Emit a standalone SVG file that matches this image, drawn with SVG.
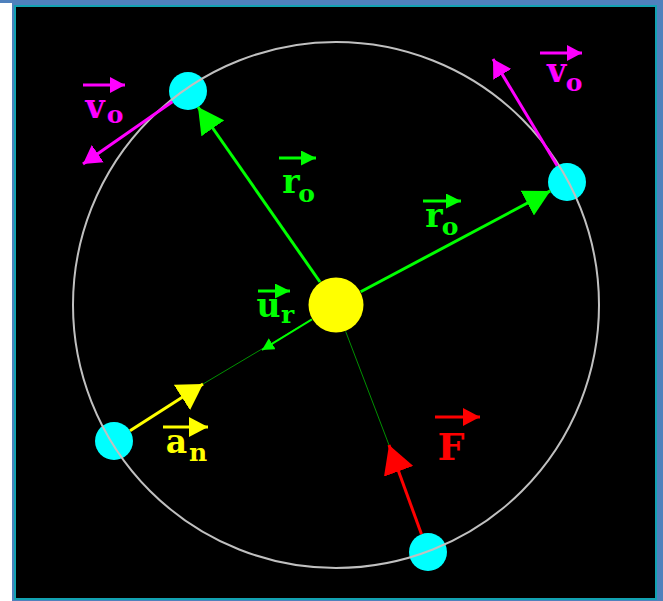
<svg xmlns="http://www.w3.org/2000/svg" width="663" height="601" viewBox="0 0 663 601">
<style>
.lbl{font-family:"DejaVu Serif","Liberation Serif",serif;font-weight:bold;text-anchor:middle}
.big{font-size:33px}
.sub{font-size:25px}
.planet{fill:#00ffff}
.orbit{fill:none;stroke:#c0c0c0;stroke-width:2}
.g{stroke:#00ff00;stroke-width:3;fill:none}
.thin{stroke:#009000;stroke-width:1;fill:none}
.y{stroke:#ffff00;stroke-width:3}
.r{stroke:#ff0000;stroke-width:3}
.m{stroke:#ff00ff;stroke-width:3}
</style>
<defs>
<marker id="hG" viewBox="0 0 26 28" refX="26" refY="14" markerWidth="26" markerHeight="28" markerUnits="userSpaceOnUse" orient="auto"><path d="M0,0L26,14L0,28z" fill="#00ff00"/></marker>
<marker id="hGs" viewBox="0 0 12 13" refX="12" refY="6.5" markerWidth="12" markerHeight="13" markerUnits="userSpaceOnUse" orient="auto"><path d="M0,0L12,6.5L0,13z" fill="#00ff00"/></marker>
<marker id="hY" viewBox="0 0 25 30" refX="25" refY="15" markerWidth="25" markerHeight="30" markerUnits="userSpaceOnUse" orient="auto"><path d="M0,0L25,15L0,30z" fill="#ffff00"/></marker>
<marker id="hR" viewBox="0 0 28 31" refX="28" refY="15.5" markerWidth="28" markerHeight="31" markerUnits="userSpaceOnUse" orient="auto"><path d="M0,0L28,15.5L0,31z" fill="#ff0000"/></marker>
<marker id="hM" viewBox="0 0 18 21" refX="18" refY="10.5" markerWidth="18" markerHeight="21" markerUnits="userSpaceOnUse" orient="auto"><path d="M0,0L18,10.5L0,21z" fill="#ff00ff"/></marker>
<marker id="lG" viewBox="0 0 15 15" refX="15" refY="7.5" markerWidth="15" markerHeight="15" markerUnits="userSpaceOnUse" orient="auto"><path d="M0,0L15,7.5L0,15z" fill="#00ff00"/></marker>
<marker id="lY" viewBox="0 0 19 20" refX="19" refY="10" markerWidth="19" markerHeight="20" markerUnits="userSpaceOnUse" orient="auto"><path d="M0,0L19,10L0,20z" fill="#ffff00"/></marker>
<marker id="lR" viewBox="0 0 17 18" refX="17" refY="9" markerWidth="17" markerHeight="18" markerUnits="userSpaceOnUse" orient="auto"><path d="M0,0L17,9L0,18z" fill="#ff0000"/></marker>
<marker id="lM" viewBox="0 0 15 16" refX="15" refY="8" markerWidth="15" markerHeight="16" markerUnits="userSpaceOnUse" orient="auto"><path d="M0,0L15,8L0,16z" fill="#ff00ff"/></marker>
</defs>

<g id="frame">
<rect width="663" height="601" fill="#ffffff"/>
<rect x="12" y="0" width="651" height="601" fill="#4f81bd"/>
<rect x="0" y="0" width="12" height="3" fill="#4f81bd"/>
<rect x="15" y="6" width="641" height="593" fill="#000000" stroke="#12a2b2" stroke-width="2"/>
</g>

<g id="planet-1"><circle class="planet" cx="188" cy="91" r="19"/></g>
<g id="planet-2"><circle class="planet" cx="567" cy="182" r="19"/></g>
<g id="planet-3"><circle class="planet" cx="114" cy="441" r="19"/></g>
<g id="planet-4"><circle class="planet" cx="428" cy="552" r="19"/></g>

<g id="orbit"><circle class="orbit" cx="336" cy="305" r="263"/></g>

<g id="sun"><circle cx="336" cy="305" r="27.5" fill="#ffff00"/></g>

<g id="connectors">
<line class="thin" x1="311.9" y1="319.3" x2="203" y2="384"/>
<line class="thin" x1="345.6" y1="331.3" x2="389" y2="445"/>
<line class="g" x1="320" y1="282" x2="198" y2="107" marker-end="url(#hG)"/>
<line class="g" x1="360.7" y1="291.8" x2="550.3" y2="190.9" marker-end="url(#hG)"/>
<line class="g" style="stroke-width:2" x1="311.9" y1="319.3" x2="262" y2="350" marker-end="url(#hGs)"/>
<line class="y" x1="130" y1="430.8" x2="203" y2="384" marker-end="url(#hY)"/>
<line class="r" x1="421.5" y1="534.2" x2="389" y2="445" marker-end="url(#hR)"/>
<line class="m" x1="172.4" y1="101.8" x2="83" y2="164" marker-end="url(#hM)"/>
<line class="m" x1="557.2" y1="165.7" x2="493" y2="59" marker-end="url(#hM)"/>
</g>

<g id="label-v-left">
<line class="m" x1="83" y1="85" x2="125" y2="85" marker-end="url(#lM)"/>
<text class="lbl big" x="95" y="118" fill="#ff00ff">v</text>
<text class="lbl sub" x="115" y="123" fill="#ff00ff">o</text>
</g>
<g id="label-v-right">
<line class="m" x1="540" y1="53" x2="582" y2="53" marker-end="url(#lM)"/>
<text class="lbl big" x="556.5" y="82" fill="#ff00ff">v</text>
<text class="lbl sub" x="574" y="91" fill="#ff00ff">o</text>
</g>
<g id="label-r-upper">
<line class="g" x1="279" y1="158" x2="316" y2="158" marker-end="url(#lG)"/>
<text class="lbl big" x="291" y="193" fill="#00ff00">r</text>
<text class="lbl sub" x="306.5" y="202" fill="#00ff00">o</text>
</g>
<g id="label-r-right">
<line class="g" x1="423" y1="201" x2="461" y2="201" marker-end="url(#lG)"/>
<text class="lbl big" x="434" y="227" fill="#00ff00">r</text>
<text class="lbl sub" x="450" y="235" fill="#00ff00">o</text>
</g>
<g id="label-ur">
<line class="g" x1="258" y1="291" x2="290" y2="291" marker-end="url(#lG)"/>
<text class="lbl big" x="268.5" y="317" fill="#00ff00">u</text>
<text class="lbl sub" x="287.5" y="323" fill="#00ff00">r</text>
</g>
<g id="label-an">
<line class="y" x1="163" y1="427" x2="208" y2="427" marker-end="url(#lY)"/>
<text class="lbl big" x="176.5" y="453" fill="#ffff00">a</text>
<text class="lbl sub" x="198" y="461" fill="#ffff00">n</text>
</g>
<g id="label-F">
<line class="r" x1="435" y1="417" x2="480" y2="417" marker-end="url(#lR)"/>
<text class="lbl" x="451" y="460" fill="#ff0000" style="font-size:38px">F</text>
</g>
</svg>
